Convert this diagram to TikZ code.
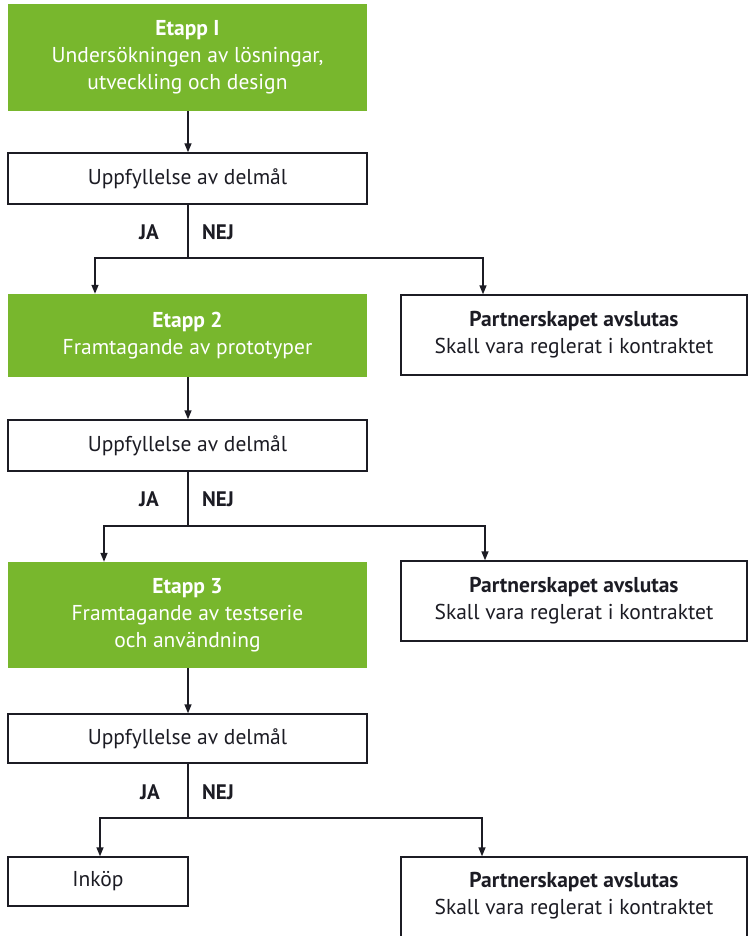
\documentclass[tikz,border=0pt]{standalone}
\usepackage{fontspec}
\setmainfont{PT Sans}
\usetikzlibrary{arrows.meta}
\definecolor{etgreen}{RGB}{120,183,45}
\definecolor{txt}{RGB}{28,28,36}
\tikzset{
  box/.style={draw=txt, line width=1.4pt, fill=white, text=txt, align=center, inner sep=0pt},
  gbox/.style={fill=etgreen, draw=none, text=white, align=center, inner sep=0pt},
  conn/.style={draw=txt, line width=1.4pt},
  arr/.style={conn, -{Triangle[length=9pt,width=7pt]}},
  lab/.style={text=txt, font=\fontsize{21}{27}\selectfont\bfseries, inner sep=0pt}
}
\begin{document}
\begin{tikzpicture}[x=1pt,y=-1pt, font=\fontsize{21.5}{27}\selectfont]
\useasboundingbox (0,0) rectangle (748,936);
\begin{scope}
\clip (0,0) rectangle (748,936);
% row 1
\node[gbox, minimum width=359pt, minimum height=107pt] (g1) at (187.5,57.5) {\textbf{Etapp I}\\Undersökningen av lösningar,\\utveckling och design};
\node[box, minimum width=359pt, minimum height=51pt] (u1) at (187.5,178.5) {Uppfyllelse av delmål};
\node[lab] (ja1) at (149,232) {JA};
\node[lab] (nej1) at (218,232) {NEJ};
\coordinate (j1) at (188,258);
\coordinate (j1L) at (95,258);
\coordinate (j1R) at (483,258);
\node[gbox, minimum width=359pt, minimum height=83pt] (g2) at (187.5,335.5) {\textbf{Etapp 2}\\Framtagande av prototyper};
\node[box, minimum width=346pt, minimum height=80pt] (r1) at (574,335) {\textbf{Partnerskapet avslutas}\\Skall vara reglerat i kontraktet};
% row 2
\node[box, minimum width=359pt, minimum height=51pt] (u2) at (187.5,445.5) {Uppfyllelse av delmål};
\node[lab] (ja2) at (149,499) {JA};
\node[lab] (nej2) at (218,499) {NEJ};
\coordinate (j2) at (188,526);
\coordinate (j2L) at (104,526);
\coordinate (j2R) at (485,526);
\node[gbox, minimum width=359pt, minimum height=106pt] (g3) at (187.5,615) {\textbf{Etapp 3}\\Framtagande av testserie\\och användning};
\node[box, minimum width=346pt, minimum height=80pt] (r2) at (574,601) {\textbf{Partnerskapet avslutas}\\Skall vara reglerat i kontraktet};
% row 3
\node[box, minimum width=359pt, minimum height=49pt] (u3) at (187.5,738.5) {Uppfyllelse av delmål};
\node[lab] (ja3) at (150,792) {JA};
\node[lab] (nej3) at (218,792) {NEJ};
\coordinate (j3) at (188,818);
\coordinate (j3L) at (100,818);
\coordinate (j3R) at (482,818);
\node[box, minimum width=180pt, minimum height=49pt] (ink) at (98,881.5) {Inköp};
\node[box, minimum width=346pt, minimum height=80pt] (r3) at (574,897) {};
\node[text=txt, align=center, inner sep=0pt] (r3t) at (574,896) {\textbf{Partnerskapet avslutas}\\Skall vara reglerat i kontraktet};
% connectors
\draw[arr] (g1.south -| j1) -- (u1.north -| j1);
\draw[conn] (u1.south -| j1) -- (j1);
\draw[arr] (j1) -- (j1L) -- (g2.north -| j1L);
\draw[arr] (j1) -- (j1R) -- (r1.north -| j1R);
\draw[arr] (g2.south -| j1) -- (u2.north -| j1);
\draw[conn] (u2.south -| j2) -- (j2);
\draw[arr] (j2) -- (j2L) -- (g3.north -| j2L);
\draw[arr] (j2) -- (j2R) -- (r2.north -| j2R);
\draw[arr] (g3.south -| j2) -- (u3.north -| j2);
\draw[conn] (u3.south -| j3) -- (j3);
\draw[arr] (j3) -- (j3L) -- (ink.north -| j3L);
\draw[arr] (j3) -- (j3R) -- (r3.north -| j3R);
\end{scope}
\end{tikzpicture}
\end{document}
